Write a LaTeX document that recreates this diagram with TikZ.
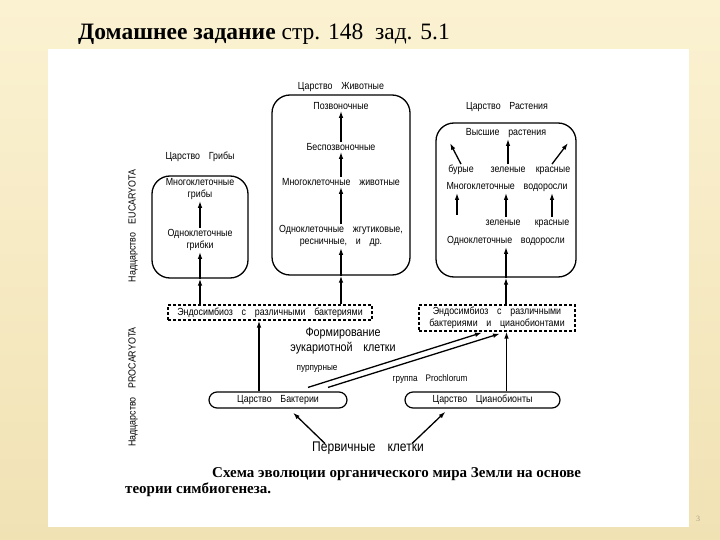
\documentclass[tikz,border=0pt]{standalone}
\usepackage{fontspec}
\setmainfont{Liberation Serif}
\newfontfamily\schemefont[FakeStretch=0.86]{Liberation Sans}
\usetikzlibrary{positioning, arrows.meta}

\definecolor{slidetop}{RGB}{251,242,210}
\definecolor{slidebot}{RGB}{241,226,180}
\definecolor{pagegray}{RGB}{170,160,130}
\newcommand\wgap{\hspace{0.85em}}

\begin{document}
\begin{tikzpicture}[x=1pt, y=-1pt,
						kbox/.style={draw, line width=1.3pt, rounded corners=18pt},
						endo/.style={draw, line width=1.2pt, dash pattern=on 3pt off 2pt},
						pill/.style={draw, line width=1.2pt, rounded corners=8pt},
						lbl/.style={font=\schemefont\fontsize{10.3}{12}\selectfont, align=center, inner sep=1pt},
						row/.style={lbl, text height=1.6ex, text depth=0.45ex},
						big/.style={font=\schemefont\fontsize{12.5}{15}\selectfont, align=center, inner sep=1pt},
						small/.style={font=\schemefont\fontsize{9.5}{11}\selectfont, inner sep=1pt},
						arr/.style={-{Latex[length=7pt,width=4.5pt]}, line width=1.3pt}]
						\useasboundingbox (0,0) rectangle (720,540);
						\fill[top color=slidetop, bottom color=slidebot] (0,0) rectangle (720,540);
						\fill[white] (48,49) rectangle (689,527);
						\node[anchor=base west, inner sep=0pt, font=\fontsize{23.5}{28}\selectfont] (title) at (78,40)
						{\textbf{Домашнее задание} стр. 148~~зад. 5.1};
						\node[font=\fontsize{8}{10}\selectfont, text=pagegray] (pagenum) at (698,519) {3};

						% fungi
						\node[lbl] (fgT) at (200,157) {Царство\wgap Грибы};
						\node[kbox, minimum width=96pt, minimum height=102pt] (fgbox) at (200,227) {};
						\node[lbl] (fg2) at (200,189) {Многоклеточные\\грибы};
						\node[lbl] (fg1) at (200,240) {Одноклеточные\\грибки};
						\draw[arr] (fg1.north) -- (fg2.south);
						\draw[arr] (fgbox.south) -- (fg1.south);

						% animals
						\node[lbl] (anT) at (341,87) {Царство\wgap Животные};
						\node[kbox, minimum width=138pt, minimum height=180pt] (anbox) at (341,185) {};
						\node[lbl] (an4) at (341,106) {Позвоночные};
						\node[lbl] (an3) at (341,147) {Беспозвоночные};
						\node[lbl] (an2) at (341,182) {Многоклеточные\wgap животные};
						\node[lbl] (an1) at (341,236) {Одноклеточные\wgap жгутиковые,\\ресничные,\wgap и\wgap др.};
						\draw[arr] (an3.north) -- (an4.south);
						\draw[arr] (an2.north) -- (an3.south);
						\draw[arr] (an1.north) -- (an2.south);
						\draw[arr] (anbox.south) -- (an1.south);

						% plants
						\node[lbl] (plT) at (507,107) {Царство\wgap Растения};
						\node[kbox, minimum width=140pt, minimum height=154pt] (plbox) at (506,200) {};
						\node[row] (vys) at (506,133) {Высшие\wgap растения};
						\node[row] (bur) at (461,170) {бурые};
						\node[row] (zel2) at (508,170) {зеленые};
						\node[row] (kr2) at (553,170) {красные};
						\node[row] (mvod) at (507,187) {Многоклеточные\wgap водоросли};
						\node[row] (zel1) at (503,223) {зеленые};
						\node[row] (kr1) at (552,223) {красные};
						\node[row] (ovod) at (506,241) {Одноклеточные\wgap водоросли};
						\coordinate (vysL) at (450,143);
						\coordinate (vysR) at (568,143);
						\coordinate (burS) at (457,215);
						\draw[arr] (bur.north) -- (vysL);
						\draw[arr] (zel2.north) -- (zel2.north |- vys.south);
						\draw[arr] ([xshift=-1pt]kr2.north) -- (vysR);
						\draw[arr] (burS) -- (burS |- mvod.south);
						\draw[arr] ([xshift=3pt]zel1.north) -- ([xshift=3pt]zel1.north |- mvod.south);
						\draw[arr] (kr1.north) -- (kr1.north |- mvod.south);
						\draw[arr] (plbox.south) -- (plbox.south |- ovod.south);

						% endosymbiosis
						\node[endo, lbl, minimum width=204pt, minimum height=15pt] (endoL) at (270,312.5)
						{Эндосимбиоз\wgap с\wgap различными\wgap бактериями};
						\node[endo, lbl, minimum width=156pt, minimum height=26pt] (endoR) at (497,318)
						{Эндосимбиоз\wgap с\wgap различными\\бактериями\wgap и\wgap цианобионтами};
						\draw[arr] (endoL.north -| fgbox.south) -- (fgbox.south);
						\draw[arr] (endoL.north -| anbox.south) -- (anbox.south);
						\draw[arr] (endoR.north -| plbox.south) -- (plbox.south);

						% prokaryotes
						\node[pill, lbl, minimum width=138pt, minimum height=16pt] (bact) at (278,400) {Царство\wgap Бактерии};
						\node[pill, lbl, minimum width=155pt, minimum height=16pt] (cyan) at (482.5,400) {Царство\wgap Цианобионты};
						\node[big] (form) at (343,341) {Формирование\\эукариотной\wgap клетки};
						\node[small] (purp) at (317,369) {пурпурные};
						\node[small] (prochl) at (430,379) {группа\wgap Prochlorum};
						\node[big, font=\schemefont\fontsize{14}{16}\selectfont] (prim) at (368,448) {Первичные\wgap клетки};
						\draw[arr] ([xshift=-19pt]bact.north) -- ([xshift=-19pt]bact.north |- endoL.south);
						\draw[arr] ([xshift=24pt]cyan.north) -- ([xshift=24pt]cyan.north |- endoR.south);
						\draw[arr] ([xshift=30pt, yshift=4pt]bact.north) -- ([xshift=-15pt, yshift=-1pt]endoR.south);
						\draw[arr] ([xshift=50pt, yshift=4pt]bact.north) -- ([xshift=3pt, yshift=-2pt]endoR.south);
						\draw[arr] ([xshift=-43pt, yshift=-3pt]prim.north) -- ([xshift=15pt, yshift=-4pt]bact.south);
						\draw[arr] ([xshift=44pt, yshift=-3pt]prim.north) -- ([xshift=-37pt, yshift=-3pt]cyan.south);

						% side labels
						\node[lbl, rotate=90] (euc) at (133,226) {Надцарство\wgap EUCARYOTA};
						\node[lbl, rotate=90] (proc) at (133,387) {Надцарство\wgap PROCARYOTA};

						% caption
						\node[anchor=base west, inner sep=0pt, font=\bfseries\fontsize{15}{18}\selectfont] (cap1) at (212,477)
						{Схема эволюции органического мира Земли на основе};
						\node[anchor=base west, inner sep=0pt, font=\bfseries\fontsize{15}{18}\selectfont] (cap2) at (125,493)
						{теории симбиогенеза.};
					\end{tikzpicture}
\end{document}
